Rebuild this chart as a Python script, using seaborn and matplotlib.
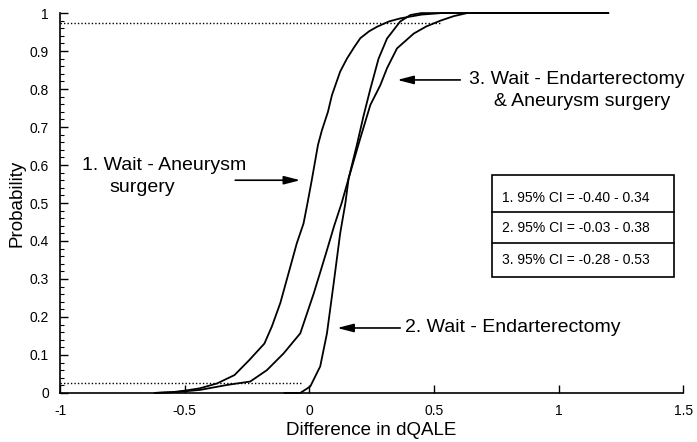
import numpy as np
import pandas as pd
import matplotlib
matplotlib.use("Agg")
import matplotlib.pyplot as plt
import seaborn as sns
from matplotlib.patches import Rectangle
from matplotlib.ticker import MultipleLocator

# ---------------- data ----------------
# Curve 1: Wait - Aneurysm surgery
x1 = [-0.62, -0.55, -0.50, -0.44, -0.37, -0.30, -0.24, -0.18, -0.15, -0.116,
      -0.076, -0.05, -0.023, -0.007, 0.01, 0.035, 0.051, 0.075, 0.091, 0.124,
      0.151, 0.18, 0.205, 0.24, 0.272, 0.32, 0.365, 0.45, 0.53, 1.2]
y1 = [0.0, 0.002, 0.006, 0.012, 0.025, 0.047, 0.087, 0.13, 0.175, 0.237,
      0.332, 0.394, 0.446, 0.50, 0.56, 0.653, 0.692, 0.74, 0.784, 0.846,
      0.88, 0.91, 0.934, 0.952, 0.964, 0.978, 0.986, 0.996, 1.0, 1.0]
# Curve 2: Wait - Endarterectomy
x2 = [-0.10, -0.036, 0.004, 0.044, 0.071, 0.098, 0.105, 0.124, 0.145, 0.158,
      0.191, 0.218, 0.245, 0.278, 0.312, 0.365, 0.406, 0.45, 1.2]
y2 = [0.0, 0.0, 0.017, 0.07, 0.157, 0.289, 0.324, 0.42, 0.50, 0.565,
      0.653, 0.73, 0.80, 0.88, 0.933, 0.978, 0.995, 1.0, 1.0]
# Curve 3: Wait - Endarterectomy & Aneurysm surgery
x3 = [-0.62, -0.52, -0.438, -0.33, -0.237, -0.17, -0.103, -0.036, 0.018, 0.047,
      0.071, 0.10, 0.13, 0.158, 0.205, 0.245, 0.285, 0.312, 0.352, 0.419,
      0.47, 0.50, 0.526, 0.58, 0.633, 1.2]
y3 = [0.0, 0.003, 0.008, 0.021, 0.03, 0.06, 0.104, 0.157, 0.262, 0.324,
      0.376, 0.44, 0.50, 0.565, 0.671, 0.758, 0.81, 0.855, 0.907, 0.946,
      0.965, 0.973, 0.98, 0.992, 1.0, 1.0]

ci_levels = [0.975, 0.025]
ci_line_ends = [0.53, -0.03]

xtick_vals = [-1, -0.5, 0, 0.5, 1, 1.5]
xtick_labels = ["-1", "-0.5", "0", "0.5", "1", "1.5"]
ytick_vals = [0, 0.1, 0.2, 0.3, 0.4, 0.5, 0.6, 0.7, 0.8, 0.9, 1]
ytick_labels = ["0", "0.1", "0.2", "0.3", "0.4", "0.5", "0.6", "0.7", "0.8", "0.9", "1"]

ci_texts = ["1. 95% CI = -0.40 - 0.34",
            "2. 95% CI = -0.03 - 0.38",
            "3. 95% CI = -0.28 - 0.53"]

# ---------------- plotting ----------------
sns.set_theme(style="ticks")
plt.rcParams['font.family'] = ['Liberation Sans', 'DejaVu Sans']
plt.rcParams['text.color'] = 'black'
plt.rcParams['axes.labelcolor'] = 'black'
plt.rcParams['xtick.color'] = 'black'
plt.rcParams['ytick.color'] = 'black'

df = pd.concat([
    pd.DataFrame({"x": x1, "p": y1, "curve": "1"}),
    pd.DataFrame({"x": x2, "p": y2, "curve": "2"}),
    pd.DataFrame({"x": x3, "p": y3, "curve": "3"}),
], ignore_index=True)

fig = plt.figure(figsize=(6.97, 4.42), dpi=100)
ax = fig.add_axes([0.0861, 0.111, 0.894, 0.8594])

sns.lineplot(data=df, x="x", y="p", hue="curve", palette=["black"] * 3,
             sort=False, estimator=None, legend=False, linewidth=1.3, ax=ax)
for ln in ax.lines:
    ln.set_clip_on(False)
    ln.set_solid_joinstyle("round")

for lev, xe in zip(ci_levels, ci_line_ends):
    ax.plot([-1, xe], [lev, lev], linestyle=(0, (1, 1.5)), color="black", lw=1.0,
            clip_on=False)

ax.set_xlim(-1, 1.5)
ax.set_ylim(0, 1)
ax.set_xticks(xtick_vals)
ax.set_xticklabels(xtick_labels)
ax.set_yticks(ytick_vals)
ax.set_yticklabels(ytick_labels)
ax.yaxis.set_minor_locator(MultipleLocator(0.02))
ax.tick_params(which="major", direction="in", length=6, width=1.0,
               labelsize=10, pad=8, colors="black")
ax.tick_params(which="minor", direction="in", length=3, width=0.8)
sns.despine(ax=ax)
for s in ["left", "bottom"]:
    ax.spines[s].set_linewidth(1.2)
    ax.spines[s].set_color("black")

ax.set_xlabel("Difference in dQALE", fontsize=13.5, labelpad=3)
ax.set_ylabel("Probability", fontsize=13.5, labelpad=3)

arrow_kw = dict(arrowstyle="-|>,head_length=0.7,head_width=0.18", color="black",
                lw=1.2, shrinkA=0, shrinkB=0, mutation_scale=14)

# annotation 1
ax.text(-0.912, 0.60, "1. Wait - Aneurysm", fontsize=14, va="center", ha="left")
ax.text(-0.80, 0.54, "surgery", fontsize=14, va="center", ha="left")
ax.annotate("", xy=(-0.036, 0.56), xytext=(-0.297, 0.56), arrowprops=arrow_kw)

# annotation 2
ax.text(0.386, 0.171, "2. Wait - Endarterectomy", fontsize=14, va="center", ha="left")
ax.annotate("", xy=(0.112, 0.171), xytext=(0.365, 0.171), arrowprops=arrow_kw)

# annotation 3
ax.text(0.639, 0.824, "3. Wait - Endarterectomy", fontsize=14, va="center", ha="left")
ax.text(0.743, 0.766, "& Aneurysm surgery", fontsize=14, va="center", ha="left")
ax.annotate("", xy=(0.353, 0.824), xytext=(0.606, 0.824), arrowprops=arrow_kw)

# CI box
bx0, bx1 = 0.735, 1.462
by0, by1 = 0.305, 0.574
ax.add_patch(Rectangle((bx0, by0), bx1 - bx0, by1 - by0, fill=False,
                       edgecolor="black", lw=1.2, clip_on=False))
for yd in [0.476, 0.395]:
    ax.plot([bx0, bx1], [yd, yd], color="black", lw=1.2, clip_on=False)
for t, yc in zip(ci_texts, [0.513, 0.434, 0.351]):
    ax.text(0.775, yc, t, fontsize=10, va="center", ha="left")

fig.savefig("out.png", dpi=100)
